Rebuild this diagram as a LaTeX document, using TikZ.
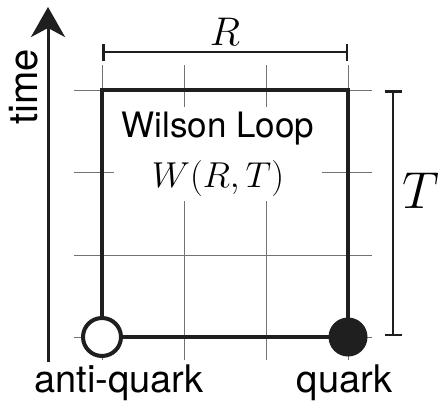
\RequirePackage{fix-cm}
\documentclass[tikz,border=0pt]{standalone}
\usepackage[no-math]{fontspec}
\setmainfont{TeX Gyre Heros}
\usetikzlibrary{arrows.meta}
\begin{document}
\begin{tikzpicture}[x=1pt,y=-1pt,
  gridline/.style={draw=black!55, line width=1pt},
  loopline/.style={draw=black!88, line width=4.2pt},
  dimline/.style={draw=black!88, line width=2.5pt},
  txt/.style={inner sep=0pt, font=\fontsize{#1}{#1}\selectfont},
]
\useasboundingbox (0,0) rectangle (439,407);
% grid
\foreach \x in {102,184,266,348} \draw[gridline] (\x,65) -- (\x,360);
\foreach \y in {90,172,255,337} \draw[gridline] (74,\y) -- (372,\y);
% corners of the loop
\coordinate (c00) at (102,337);
\coordinate (c10) at (348,337);
\coordinate (c11) at (348,90);
\coordinate (c01) at (102,90);
% label in the loop
\node[fill=white, align=center, inner xsep=8pt, inner ysep=5pt,
      font=\fontsize{35}{50}\selectfont] (wl) at (218,154)
      {Wilson Loop\\\fontsize{36}{50}\selectfont$W(R,T)$};
% loop
\draw[loopline] (c00) -- (c01) -- (c11) -- (c10) -- cycle;
% charges
\node[circle, draw=black!88, line width=4pt, fill=white, minimum size=38pt, inner sep=0pt] (aq) at (c00) {};
\node[circle, fill=black!88, minimum size=39pt, inner sep=0pt] (q) at (c10) {};
% time axis
\coordinate (tb) at (48,362);
\coordinate (tt) at (48,7);
\draw[draw=black!88, line width=3pt, -{Stealth[length=30pt,width=34pt,inset=9pt]}] (tb) -- (tt);
\node[txt=40, rotate=90] (time) at (24,87) {time};
% R dimension
\coordinate (rl) at (102,52);
\coordinate (rr) at (348,52);
\draw[dimline, {Bar[width=17pt]}-{Bar[width=17pt]}] (rl) -- (rr);
\node[txt=40] (R) at (225,32) {$R$};
% T dimension
\coordinate (tt1) at (393,90);
\coordinate (tb1) at (393,336);
\draw[dimline, {Bar[width=17pt]}-{Bar[width=17pt]}] (tt1) -- (tb1);
\node[txt=52] (T) at (421,191) {$T$};
% bottom labels
\node[txt=38, anchor=base] (aql) at (119,392) {anti-quark};
\node[txt=38, anchor=base] (ql) at (344.5,392) {quark};
\end{tikzpicture}
\end{document}
